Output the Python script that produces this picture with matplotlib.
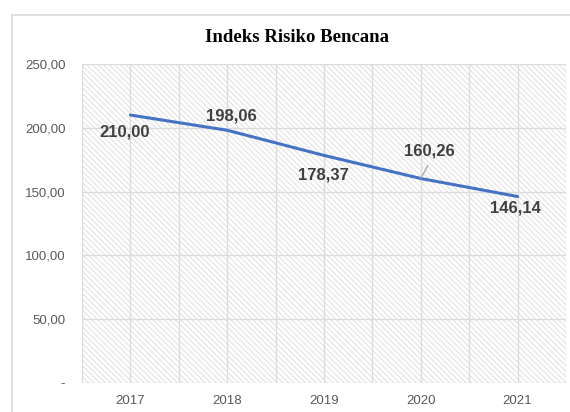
import matplotlib
matplotlib.use("Agg")
import matplotlib.pyplot as plt
from matplotlib.patches import Rectangle
from matplotlib.lines import Line2D
from matplotlib.ticker import FuncFormatter, FixedLocator

years = ["2017", "2018", "2019", "2020", "2021"]
values = [210.00, 198.06, 178.37, 160.26, 146.14]
labels = ["210,00", "198,06", "178,37", "160,26", "146,14"]
yticks = [0, 50, 100, 150, 200, 250]

W, H = 570, 412
fig = plt.figure(figsize=(W / 100, H / 100), dpi=100)
fig.patch.set_facecolor("white")

# outer chart border (left and top visible)
fig.add_artist(Line2D([12 / W, 12 / W], [0, 1 - 15 / H], transform=fig.transFigure,
                      color="#d9d9d9", lw=1.2))
fig.add_artist(Line2D([12 / W, 1], [1 - 15 / H, 1 - 15 / H], transform=fig.transFigure,
                      color="#d9d9d9", lw=1.2))

left, right, top, bottom = 82, 566, 64, 383
ax = fig.add_axes([left / W, (H - bottom) / H, (right - left) / W, (bottom - top) / H])
ax.set_facecolor("white")

plt.rcParams["hatch.linewidth"] = 0.6
hatch = Rectangle((0, 0), 1, 1, transform=ax.transAxes, facecolor="none",
                  edgecolor="#dadada", hatch="\\\\\\\\\\\\", lw=0, zorder=0)
ax.add_patch(hatch)

x = list(range(len(years)))
ax.set_xlim(-0.5, len(years) - 0.5)
ax.set_ylim(0, 250)

ax.xaxis.set_major_locator(FixedLocator(x))
ax.xaxis.set_minor_locator(FixedLocator([i - 0.5 for i in range(len(years) + 1)]))
ax.set_xticklabels(years)
ax.yaxis.set_major_locator(FixedLocator(yticks))
ax.yaxis.set_major_formatter(FuncFormatter(
    lambda v, p: "-" if v == 0 else f"{v:.2f}".replace(".", ",")))

ax.grid(True, which="major", color="#dcdcdc", lw=1, zorder=1)
ax.grid(True, which="minor", axis="x", color="#dcdcdc", lw=1, zorder=1)
ax.set_axisbelow(True)
for s in ax.spines.values():
    s.set_visible(False)

ax.tick_params(which="both", length=0)
ax.tick_params(axis="y", pad=12, labelsize=9.5, labelcolor="#595959")
ax.tick_params(axis="x", pad=9, labelsize=9.5, labelcolor="#595959")
for t in ax.get_xticklabels() + ax.get_yticklabels():
    t.set_fontfamily("Liberation Sans")

ax.plot(x, values, color="#4472C4", lw=2.2, zorder=3, solid_capstyle="round")

offsets = [(-6, -17), (4, 14), (-1, -20), (9, 28), (-2, -11)]
for xi, v, lab, (dx, dy) in zip(x, values, labels, offsets):
    ax.annotate(lab, (xi, v), xytext=(dx, dy), textcoords="offset pixels",
                ha="center", va="center", fontsize=12, fontweight="bold",
                color="#404040", family="Liberation Sans", zorder=4)
# leader line for 2020 label
ax.annotate("", (3, values[3]), xytext=(7, 13), textcoords="offset pixels",
            arrowprops=dict(arrowstyle="-", color="#a6a6a6", lw=0.9, shrinkA=0, shrinkB=0))

fig.text(297 / W, 1 - 37 / H, "Indeks Risiko Bencana", ha="center", va="center",
         fontsize=13.5, fontweight="bold", family="Liberation Serif", color="black")

fig.savefig("out.png", dpi=100, facecolor="white")
